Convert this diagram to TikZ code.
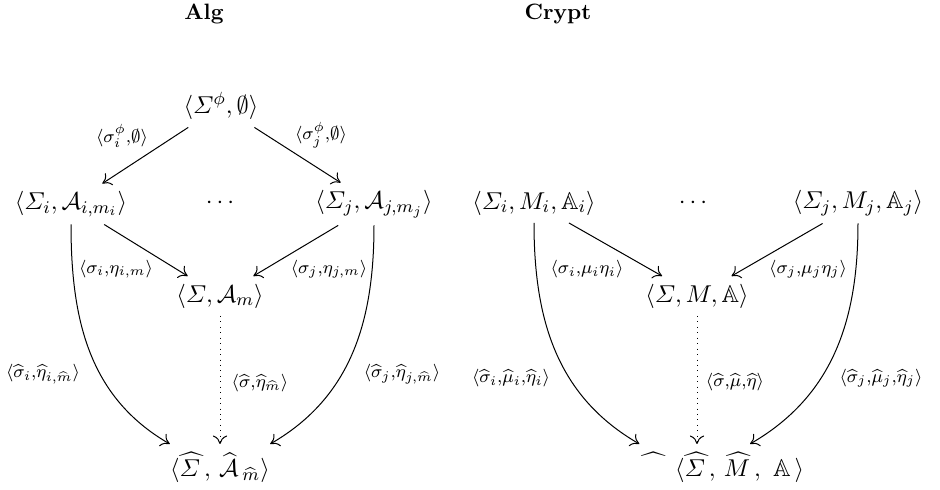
\documentclass[tikz,border=0pt]{standalone}
\usepackage{amsmath,amssymb}
\usetikzlibrary{arrows.meta,calc}
\begin{document}
\begin{tikzpicture}[x=0.45pt,y=0.45pt,
  font=\fontsize{10.95}{13.6}\selectfont,
  obj/.style={inner sep=3.3pt},
  lab/.style={inner sep=0pt},
  ttl/.style={font=\fontsize{10}{12}\selectfont\bfseries,inner sep=0pt},
  ar/.style={line width=0.45pt,-{Computer Modern Rightarrow[length=3.8pt,width=6.4pt]}},
  dar/.style={ar,dotted}]
\useasboundingbox (0,0) rectangle (940,-489);
% titles
\node[ttl] (talg) at (204,-14) {Alg};
\node[ttl] (tcry) at (558,-14) {Crypt};
% Alg diagram
\node[obj] (T) at (221,-106) {$\langle \varSigma^{\phi},\emptyset\rangle$};
\node[obj] (L) at (71,-204) {$\langle \varSigma_i,\mathcal{A}_{i,m_i}\rangle$};
\node[obj] (D1) at (222,-203) {$\cdots$};
\node[obj] (R) at (374,-204) {$\langle \varSigma_j,\mathcal{A}_{j,m_j}\rangle$};
\node[obj] (M) at (220,-296) {$\langle \varSigma,\mathcal{A}_m\rangle$};
\node[obj,inner xsep=0pt] (B) at (220,-467) {$\langle \widehat{\varSigma\,},\,\widehat{\mathcal{A}\,}_{\widehat{m}}\rangle$};
\draw[ar] (T) -- (L);
\draw[ar] (T) -- (R);
\draw[ar] (L) -- (M);
\draw[ar] (R) -- (M);
\draw[dar] (M) -- (B);
\draw[ar] (L) to[out=-90,in=150] (B.north west);
\draw[ar] (R) to[out=-90,in=30] (B.north east);
\node[lab] (l1) at (122,-136) {$\scriptstyle\langle\sigma^{\phi}_i,\emptyset\rangle$};
\node[lab] (l2) at (321,-135) {$\scriptstyle\langle\sigma^{\phi}_j,\emptyset\rangle$};
\node[lab] (l3) at (116,-269) {$\scriptstyle\langle\sigma_i,\eta_{i,m}\rangle$};
\node[lab] (l4) at (329,-269) {$\scriptstyle\langle\sigma_j,\eta_{j,m}\rangle$};
\node[lab] (l5) at (43,-374) {$\scriptstyle\langle\widehat{\sigma}_i,\widehat{\eta}_{i,\widehat{m}}\rangle$};
\node[lab] (l6) at (260,-383) {$\scriptstyle\langle\widehat{\sigma},\widehat{\eta}_{\widehat{m}}\rangle$};
\node[lab] (l7) at (402,-374) {$\scriptstyle\langle\widehat{\sigma}_j,\widehat{\eta}_{j,\widehat{m}}\rangle$};
% Crypt diagram
\node[obj] (CL) at (534,-203) {$\langle \varSigma_i,M_i,\mathbb{A}_i\rangle$};
\node[obj] (D2) at (695,-203) {$\cdots$};
\node[obj] (CR) at (858,-203) {$\langle \varSigma_j,M_j,\mathbb{A}_j\rangle$};
\node[obj] (CM) at (697,-296) {$\langle \varSigma,M,\mathbb{A}\rangle$};
\node[obj,inner xsep=0pt] (CB) at (722,-467) {$\widehat{\phantom{\varSigma\,\,}}\;\langle \widehat{\varSigma\,},\,\widehat{M\,},\ \mathbb{A}\,\rangle$};
\coordinate (CBr) at ($(CB.north)+(28,0)$);
\draw[ar] (CL) -- (CM);
\draw[ar] (CR) -- (CM);
\draw[dar] (CM) -- (CM |- CB.north);
\draw[ar] (CL) to[out=-90,in=150] (CB.north west);
\draw[ar] (CR) to[out=-90,in=30] (CBr);
\node[lab] (c3) at (587,-269) {$\scriptstyle\langle\sigma_i,\mu_i\eta_i\rangle$};
\node[lab] (c4) at (808,-269) {$\scriptstyle\langle\sigma_j,\mu_j\eta_j\rangle$};
\node[lab] (c5) at (511,-378) {$\scriptstyle\langle\widehat{\sigma}_i,\widehat{\mu}_i,\widehat{\eta}_i\rangle$};
\node[lab] (c6) at (735,-382) {$\scriptstyle\langle\widehat{\sigma},\widehat{\mu},\widehat{\eta}\rangle$};
\node[lab] (c7) at (881,-378) {$\scriptstyle\langle\widehat{\sigma}_j,\widehat{\mu}_j,\widehat{\eta}_j\rangle$};
\end{tikzpicture}
\end{document}
